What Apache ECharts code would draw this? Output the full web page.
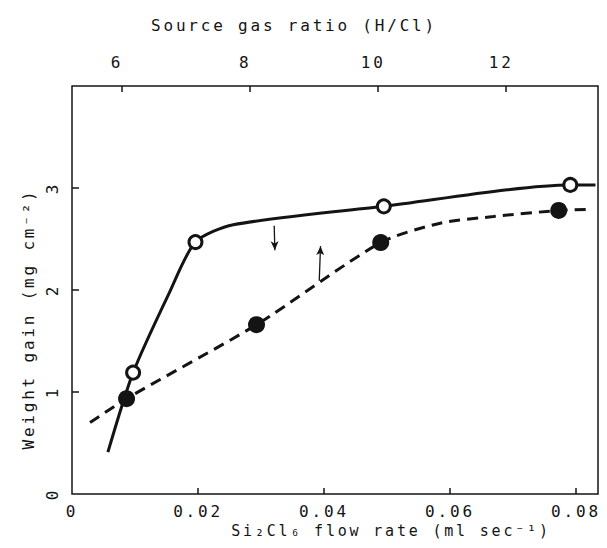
<!DOCTYPE html>
<html>
<head>
<meta charset="utf-8">
<script src="https://cdn.jsdelivr.net/npm/echarts@6/dist/echarts.min.js"></script>
<style>
  html, body { margin: 0; padding: 0; background: #fff; }
  #chart { width: 607px; height: 548px; }
  #chart svg text { letter-spacing: 2.8px; }
</style>
</head>
<body>
<div id="chart"></div>
<script>
// ---- data ----
const flowTicks = [0, 0.02, 0.04, 0.06, 0.08];          // bottom axis (ml/sec)
const ratioTicks = [6, 8, 10, 12];                      // top axis (H/Cl)
const gainTicks = [0, 1, 2, 3];                         // left axis (mg cm-2)

// open circles (vs Si2Cl6 flow rate, bottom axis)
const openFlow = [0.0097, 0.0196, 0.0495, 0.0791];
const openGain = [1.19, 2.47, 2.82, 3.03];
// solid curve traced through them
const solidCurveFlow = [0.0057, 0.0097, 0.0155, 0.0196, 0.0256, 0.0495, 0.0791, 0.0831];
const solidCurveGain = [0.41, 1.19, 1.98, 2.47, 2.64, 2.82, 3.03, 3.03];

// filled circles (vs source gas ratio H/Cl, top axis)
const filledRatio = [6.07, 8.10, 10.04, 12.82];
const filledGain = [0.935, 1.66, 2.465, 2.78];
// dashed curve traced through them
const dashCurveRatio = [5.50, 6.07, 8.10, 10.04, 10.97, 11.80, 12.82, 13.26];
const dashCurveGain = [0.70, 0.935, 1.66, 2.465, 2.655, 2.72, 2.78, 2.79];

// arrows pointing to the axis each curve belongs to
const downArrowFlow = [0.0321, 0.0322];
const downArrowGain = [2.63, 2.39];
const upArrowRatio = [9.08, 9.10];
const upArrowGain = [2.09, 2.43];

const zip = (a, b) => a.map((v, i) => [v, b[i]]);
const FONT = 'DejaVu Sans Mono';
const INK = '#141414';
const txt = { color: INK, fontFamily: FONT, fontSize: 16 };

const chart = echarts.init(document.getElementById('chart'), null, { renderer: 'svg' });
chart.setOption({
  animation: false,
  backgroundColor: '#fff',
  grid: { left: 72, right: 9, top: 86, bottom: 54, show: true, borderColor: INK, borderWidth: 1.5, backgroundColor: 'transparent' },
  xAxis: [
    {
      type: 'value', position: 'bottom', min: 0, max: 0.0835,
      splitLine: { show: false }, axisLine: { show: false },
      axisTick: { inside: true, length: 6, lineStyle: { color: INK, width: 1.5 }, customValues: flowTicks.slice(1) },
      axisLabel: Object.assign({ customValues: flowTicks, margin: 9, formatter: v => (v === 0 ? '0' : v.toFixed(2)) }, txt),
      name: 'Si₂Cl₆ flow rate (ml sec⁻¹)', nameLocation: 'middle', nameGap: 20,
      nameTextStyle: Object.assign({}, txt, { fontSize: 15, padding: [0, 0, 0, 112] })
    },
    {
      type: 'value', position: 'top', min: 5.218, max: 13.434,
      splitLine: { show: false }, axisLine: { show: false },
      axisTick: { inside: true, length: 6, lineStyle: { color: INK, width: 1.5 }, customValues: ratioTicks },
      axisLabel: Object.assign({ customValues: ratioTicks, margin: 16, padding: [0, 10, 0, 0], formatter: v => String(v) }, txt),
      name: 'Source gas ratio (H/Cl)', nameLocation: 'middle', nameGap: 53,
      nameTextStyle: Object.assign({ padding: [0, 82, 0, 0] }, txt)
    }
  ],
  yAxis: {
    type: 'value', min: 0, max: 4,
    splitLine: { show: false }, axisLine: { show: false },
    axisTick: { inside: true, length: 7, lineStyle: { color: INK, width: 1.5 }, customValues: gainTicks.slice(1) },
    axisLabel: Object.assign({ customValues: gainTicks, margin: 12, rotate: 90 }, txt),
    name: 'Weight gain (mg cm⁻²)', nameLocation: 'middle', nameGap: 31, nameRotate: 90,
    nameTextStyle: Object.assign({ padding: [0, 58, 0, 0] }, txt)
  },
  series: [
    {
      type: 'line', xAxisIndex: 0, yAxisIndex: 0, data: zip(solidCurveFlow, solidCurveGain),
      smooth: 0.25, showSymbol: false, silent: true,
      lineStyle: { color: INK, width: 3 },
      markLine: {
        silent: true, symbol: ['none', 'arrow'], symbolSize: [6, 9], label: { show: false },
        lineStyle: { color: INK, width: 1.3, type: 'solid' },
        data: [[{ coord: [downArrowFlow[0], downArrowGain[0]] }, { coord: [downArrowFlow[1], downArrowGain[1]] }]]
      }
    },
    {
      type: 'line', xAxisIndex: 1, yAxisIndex: 0, data: zip(dashCurveRatio, dashCurveGain),
      smooth: 0.25, showSymbol: false, silent: true,
      lineStyle: { color: INK, width: 3, type: [11, 7] },
      markLine: {
        silent: true, symbol: ['none', 'arrow'], symbolSize: [6, 9], label: { show: false },
        lineStyle: { color: INK, width: 1.3, type: 'solid' },
        data: [[{ coord: [upArrowRatio[0], upArrowGain[0]] }, { coord: [upArrowRatio[1], upArrowGain[1]] }]]
      }
    },
    {
      type: 'scatter', xAxisIndex: 0, yAxisIndex: 0, data: zip(openFlow, openGain),
      symbol: 'circle', symbolSize: 13, silent: true, z: 5,
      itemStyle: { color: '#fff', borderColor: INK, borderWidth: 3, opacity: 1 }
    },
    {
      type: 'scatter', xAxisIndex: 1, yAxisIndex: 0, data: zip(filledRatio, filledGain),
      symbol: 'circle', symbolSize: 17, silent: true, z: 5,
      itemStyle: { color: INK, opacity: 1 }
    }
  ]
});
</script>
</body>
</html>
